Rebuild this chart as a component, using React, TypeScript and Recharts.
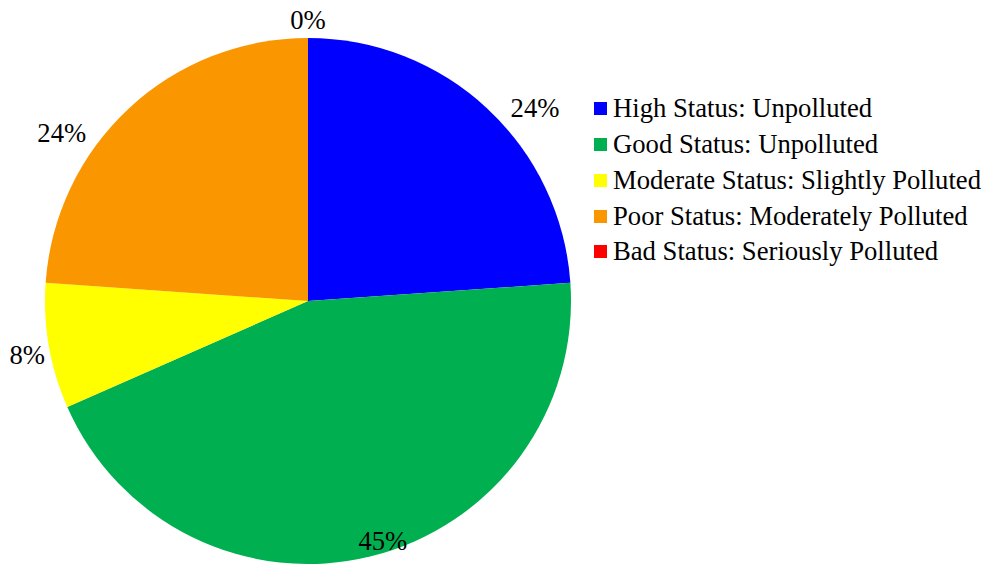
import { PieChart, Pie, Cell, Legend } from 'recharts';

const categories = [
  'High Status: Unpolluted',
  'Good Status: Unpolluted',
  'Moderate Status: Slightly Polluted',
  'Poor Status: Moderately Polluted',
  'Bad Status: Seriously Polluted',
];
const shares = [23.9, 44.5, 7.7, 23.9, 0];
const shareLabels = ['24%', '45%', '8%', '24%', '0%'];
const colors = ['#0000FF', '#00B050', '#FFFF00', '#FA9600', '#FF0000'];

const data = categories.map((name, i) => ({ name, value: shares[i], label: shareLabels[i] }));

const RADIAN = Math.PI / 180;
const FONT = 'Liberation Serif';
const FONT_SIZE = 26.67; // 20pt

// Excel's "best fit" label placement, approximated: distance from the centre
// and a small angular nudge away from each slice's mid angle
const labelRadius = [298, 251, 286, 298, 281];
const labelNudge = [-6.6, 3.5, 1, 12.7, 0];

const renderLabel = (props: any) => {
  const { cx, cy, midAngle, index } = props;
  const a = (midAngle + labelNudge[index]) * RADIAN;
  const r = labelRadius[index];
  const x = cx + r * Math.cos(-a);
  const y = cy + r * Math.sin(-a);
  return (
    <text x={x} y={y + 9} textAnchor="middle" fill="#000" style={{ fontFamily: FONT, fontSize: FONT_SIZE }}>
      {data[index].label}
    </text>
  );
};

const renderLegend = () => (
  <ul style={{ listStyle: 'none', margin: 0, padding: 0 }}>
    {categories.map((name, i) => (
      <li
        key={name}
        style={{
          display: 'flex',
          alignItems: 'center',
          height: 35.75,
          fontFamily: FONT,
          fontSize: FONT_SIZE,
          color: '#000',
          whiteSpace: 'nowrap',
        }}
      >
        <span style={{ display: 'inline-block', width: 13, height: 13, background: colors[i], marginRight: 6 }} />
        {name}
      </li>
    ))}
  </ul>
);

export default function App() {
  return (
    <div style={{ position: 'absolute', left: 0, top: 0, width: 985, height: 564, background: '#fff' }}>
      <PieChart width={985} height={564} margin={{ top: 0, right: 0, bottom: 0, left: 0 }}>
        <Pie
          data={data}
          dataKey="value"
          nameKey="name"
          cx={308}
          cy={301}
          outerRadius={263}
          startAngle={90}
          endAngle={-270}
          stroke="none"
          label={renderLabel}
          labelLine={false}
          isAnimationActive={false}
        >
          {data.map((d, i) => (
            <Cell key={d.name} fill={colors[i]} />
          ))}
        </Pie>
        <Legend
          layout="vertical"
          content={renderLegend}
          wrapperStyle={{ position: 'absolute', left: 594, top: 91, width: 391 }}
        />
      </PieChart>
    </div>
  );
}
